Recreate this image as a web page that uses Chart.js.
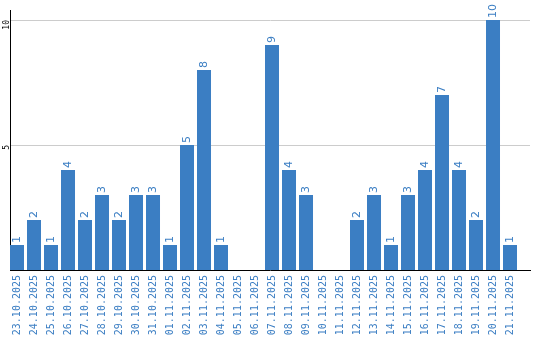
<!DOCTYPE html>
<html>
<head>
<meta charset="utf-8">
<script src="https://cdn.jsdelivr.net/npm/chart.js@4"></script>
<style>
    html, body { margin: 0; padding: 0; background: #fff; }
    #wrap { width: 540px; height: 340px; }
</style>
</head>
<body>
<div id="wrap"><canvas id="dailyChart"></canvas></div>
<script>
// Daily counts
const days = [
    '23.10.2025', '24.10.2025', '25.10.2025', '26.10.2025', '27.10.2025',
    '28.10.2025', '29.10.2025', '30.10.2025', '31.10.2025', '01.11.2025',
    '02.11.2025', '03.11.2025', '04.11.2025', '05.11.2025', '06.11.2025',
    '07.11.2025', '08.11.2025', '09.11.2025', '10.11.2025', '11.11.2025',
    '12.11.2025', '13.11.2025', '14.11.2025', '15.11.2025', '16.11.2025',
    '17.11.2025', '18.11.2025', '19.11.2025', '20.11.2025', '21.11.2025'
];
const counts = [1, 2, 1, 4, 2, 3, 2, 3, 3, 1, 5, 8, 1, 0, 0, 9, 4, 3, 0, 0, 2, 3, 1, 3, 4, 7, 4, 2, 10, 1];
const yTicks = [5, 10];

const BLUE = '#3b7ec3';

// value labels above bars, rotated
const valueLabels = {
    id: 'valueLabels',
    afterDatasetsDraw(chart) {
        const ctx = chart.ctx;
        const meta = chart.getDatasetMeta(0);
        ctx.save();
        ctx.fillStyle = BLUE;
        ctx.font = '11px "DejaVu Sans"';
        ctx.textAlign = 'left';
        ctx.textBaseline = 'middle';
        meta.data.forEach((bar, i) => {
            if (!counts[i]) return;
            ctx.save();
            ctx.translate(bar.x, bar.y - 2);
            ctx.rotate(-Math.PI / 2);
            ctx.fillText(String(counts[i]), 0, 0);
            ctx.restore();
        });
        ctx.restore();
    }
};

new Chart(document.getElementById('dailyChart').getContext('2d'), {
    type: 'bar',
    data: {
        labels: days,
        datasets: [{
            data: counts,
            backgroundColor: BLUE,
            barPercentage: 0.8235,
            categoryPercentage: 1
        }]
    },
    options: {
        responsive: true,
        maintainAspectRatio: false,
        animation: false,
        layout: { padding: { top: 10, right: 10, left: 0, bottom: 0 } },
        plugins: {
            legend: { display: false },
            tooltip: { enabled: false }
        },
        scales: {
            x: {
                grid: { display: false, drawTicks: false },
                border: { color: '#000', width: 1 },
                ticks: {
                    color: BLUE,
                    font: { family: 'DejaVu Sans Mono', size: 10 },
                    minRotation: 90,
                    maxRotation: 90,
                    padding: 5,
                    autoSkip: false
                },
                afterFit: s => { s.height = 70; },
                // bars sit at the left, leaving a little empty room at the right end
                afterBuildTicks: s => {
                    s._startValue = -0.412;
                    s._valueRange = 30.588;
                }
            },
            y: {
                min: 0,
                max: 10.4,
                grid: {
                    color: '#cccccc',
                    drawTicks: false
                },
                border: { color: '#000', width: 1 },
                ticks: {
                    color: '#000',
                    font: { family: 'DejaVu Sans Mono', size: 8 },
                    minRotation: 90,
                    maxRotation: 90,
                    padding: 3
                },
                afterBuildTicks: s => {
                    s.ticks = yTicks.map(v => ({ value: v }));
                },
                afterFit: s => { s.width = 10; }
            }
        }
    },
    plugins: [valueLabels]
});
</script>
</body>
</html>
